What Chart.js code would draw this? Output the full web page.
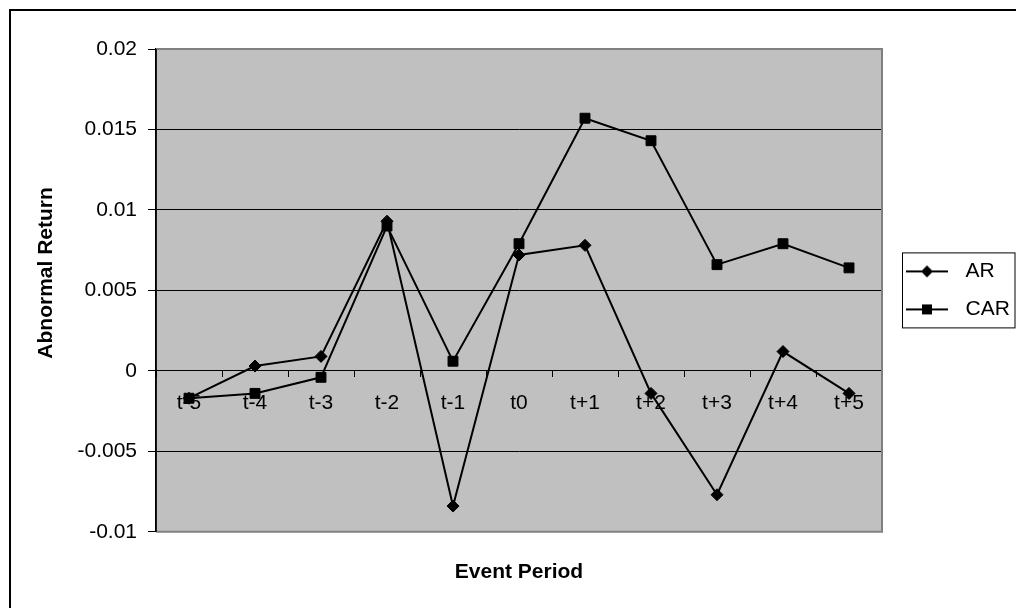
<!DOCTYPE html>
<html>
<head>
<meta charset="utf-8">
<title>Abnormal Return</title>
<script src="https://cdn.jsdelivr.net/npm/chart.js@4"></script>
<style>
  body { margin: 0; background: #ffffff; }
  canvas { display: block; }
</style>
</head>
<body>
<canvas id="chart" width="1016" height="608"></canvas>
<script>
// ---------- DATA ----------
const periods = ["t-5", "t-4", "t-3", "t-2", "t-1", "t0", "t+1", "t+2", "t+3", "t+4", "t+5"];
const arValues = [-0.0017, 0.0003, 0.0009, 0.0093, -0.0084, 0.0072, 0.0078, -0.0014, -0.0077, 0.0012, -0.0014];
const carValues = [-0.0017, -0.0014, -0.0004, 0.0090, 0.0006, 0.0079, 0.0157, 0.0143, 0.0066, 0.0079, 0.0064];
const yTickValues = [-0.01, -0.005, 0, 0.005, 0.01, 0.015, 0.02];
const yTickLabels = ["-0.01", "-0.005", "0", "0.005", "0.01", "0.015", "0.02"];

const FONT = "'Liberation Sans', Arial, sans-serif";
Chart.defaults.font.family = FONT;
Chart.defaults.color = "#000000";

// small legend picture: a line with the marker in the middle
function legendIcon(style) {
    const c = document.createElement("canvas");
    c.width = 42;
    c.height = 14;
    const g = c.getContext("2d");
    g.strokeStyle = "#000";
    g.fillStyle = "#000";
    g.lineWidth = 2;
    g.beginPath();
    g.moveTo(0, 7);
    g.lineTo(42, 7);
    g.stroke();
    g.beginPath();
    if (style === "diamond") {
        g.moveTo(21, 1); g.lineTo(27, 7); g.lineTo(21, 13); g.lineTo(15, 7);
    } else {
        g.rect(16, 2, 10, 10);
    }
    g.closePath();
    g.fill();
    return c;
}

// plot background, borders
const framePlugin = {
    id: "frame",
    beforeDraw(chart) {
        const {ctx, chartArea: a} = chart;
        ctx.save();
        ctx.fillStyle = "#ffffff";
        ctx.fillRect(0, 0, chart.width, chart.height);
        ctx.fillStyle = "#c0c0c0";
        ctx.fillRect(a.left, a.top, a.right - a.left, a.bottom - a.top);
        ctx.restore();
    },
    beforeDatasetsDraw(chart) {
        const {ctx, chartArea: a} = chart;
        ctx.save();
        ctx.strokeStyle = "#808080";
        ctx.lineWidth = 2;
        ctx.beginPath();
        ctx.moveTo(a.left, a.top);
        ctx.lineTo(a.right, a.top);
        ctx.lineTo(a.right, a.bottom);
        ctx.lineTo(a.left, a.bottom);
        ctx.stroke();
        ctx.strokeStyle = "#000000";
        ctx.lineWidth = 1.5;
        ctx.beginPath();
        ctx.moveTo(a.left, a.top);
        ctx.lineTo(a.left, a.bottom);
        ctx.stroke();
        ctx.restore();
    },
    afterDraw(chart) {
        const ctx = chart.ctx;
        ctx.save();
        ctx.strokeStyle = "#000000";
        ctx.lineWidth = 2;
        ctx.strokeRect(10, 10, chart.width + 10, chart.height + 10);

        // legend box
        const lg = chart.legend;
        const hb = lg.legendHitBoxes;
        if (hb && hb.length) {
            const top = hb[0].top + hb[0].height / 2 - 19;
            const last = hb[hb.length - 1];
            const bottom = last.top + last.height / 2 + 18;
            ctx.lineWidth = 1;
            ctx.strokeRect(lg.left + 20.5, top + 0.5, chart.width - lg.left - 21.5, bottom - top);
        }
        ctx.restore();
    }
};

new Chart(document.getElementById("chart"), {
    type: "line",
    data: {
        labels: periods,
        datasets: [
            {
                label: "AR",
                data: arValues,
                borderColor: "#000000",
                backgroundColor: "#000000",
                borderWidth: 2,
                pointStyle: "rectRot",
                pointRadius: 6,
                pointBorderWidth: 1,
                tension: 0
            },
            {
                label: "CAR",
                data: carValues,
                borderColor: "#000000",
                backgroundColor: "#000000",
                borderWidth: 2,
                pointStyle: "rect",
                pointRadius: 7,
                pointBorderWidth: 1,
                tension: 0
            }
        ]
    },
    options: {
        responsive: false,
        animation: false,
        layout: {
            padding: {left: 10, top: 49, right: 0, bottom: 23}
        },
        plugins: {
            legend: {
                position: "right",
                fullSize: false,
                maxWidth: 134,
                labels: {
                    usePointStyle: true,
                    pointStyleWidth: 56,
                    padding: 17,
                    font: {size: 21},
                    color: "#000000",
                    generateLabels: () => [
                        {text: "AR", pointStyle: legendIcon("diamond"), fillStyle: "#000", strokeStyle: "#000", lineWidth: 0, hidden: false, datasetIndex: 0},
                        {text: "CAR", pointStyle: legendIcon("square"), fillStyle: "#000", strokeStyle: "#000", lineWidth: 0, hidden: false, datasetIndex: 1}
                    ]
                }
            },
            title: {
                display: true,
                position: "bottom",
                fullSize: false,
                text: "Event Period",
                color: "#000000",
                font: {size: 21, weight: "bold"},
                padding: {top: 28, bottom: 0}
            },
            tooltip: {enabled: false}
        },
        scales: {
            x: {
                position: {y: 0},
                offset: true,
                grid: {
                    offset: true,
                    drawOnChartArea: false,
                    drawTicks: true,
                    tickLength: 6,
                    tickColor: "#000000"
                },
                border: {display: true, color: "#000000", width: 1},
                ticks: {
                    font: {size: 21},
                    color: "#000000",
                    padding: 14,
                    maxRotation: 0,
                    autoSkip: false
                }
            },
            y: {
                min: -0.01,
                max: 0.02,
                afterBuildTicks(scale) {
                    scale.ticks = yTickValues.map(v => ({value: v}));
                },
                afterFit(scale) {
                    scale.width = 146;
                },
                grid: {
                    color: "#000000",
                    lineWidth: 1,
                    tickLength: 8,
                    tickColor: "#000000"
                },
                border: {display: true, color: "#000000", width: 1.5},
                ticks: {
                    font: {size: 21},
                    color: "#000000",
                    padding: 11,
                    callback: (value, i) => yTickLabels[i]
                },
                title: {
                    display: true,
                    // leading spaces lift the rotated title a little, as in the original
                    text: "      Abnormal Return",
                    color: "#000000",
                    font: {size: 21, weight: "bold"},
                    padding: {top: 24, bottom: 0}
                }
            }
        }
    },
    plugins: [framePlugin]
});
</script>
</body>
</html>
